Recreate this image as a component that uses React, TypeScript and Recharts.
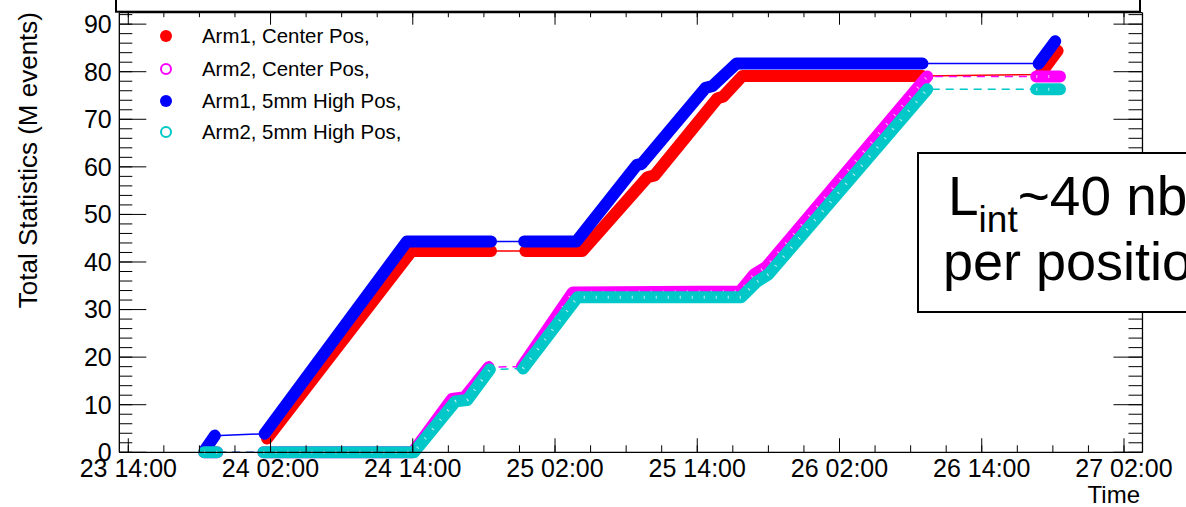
import React from 'react';
import { LineChart, Line, XAxis, YAxis } from 'recharts';

type Pt = [number, number];

// Time is in hours since 23 14:00, values are accumulated M events.
// Every series is a list of runs; a thin line bridges the gaps between runs.
const arm1CenterRuns: Pt[][] = [
  [[11.7, 2.9], [23.9, 42.3], [30.6, 42.3]],
  [[33.5, 42.3], [38.3, 42.3], [43.8, 57.8], [44.4, 58.2], [49.7, 74.4], [50.2, 74.8], [51.8, 79.1], [67.0, 79.1]],
  [[76.9, 79.4], [78.4, 84.4]],
];

const arm2CenterRuns: Pt[][] = [
  [[6.4, 0], [7.5, 0]],
  [[11.4, 0], [24.0, 0], [27.3, 11.2], [28.4, 11.6], [30.4, 17.9]],
  [[33.2, 18.0], [37.5, 33.6], [51.6, 33.8], [52.8, 37.4], [53.8, 38.9], [67.4, 79.0]],
  [[76.6, 79.0], [78.6, 79.0]],
];

const arm1HighRuns: Pt[][] = [
  [[6.5, 0.6], [7.3, 3.5]],
  [[11.5, 3.9], [23.5, 44.3], [30.6, 44.3]],
  [[33.4, 44.3], [37.8, 44.3], [42.9, 60.4], [43.3, 60.6], [48.7, 76.6], [49.3, 77.0], [51.3, 81.7], [67.0, 81.7]],
  [[76.8, 81.7], [78.2, 86.4]],
];

const arm2HighRuns: Pt[][] = [
  [[6.4, 0], [7.5, 0]],
  [[11.4, 0], [24.1, 0], [27.6, 10.7], [28.6, 11.0], [30.5, 17.4]],
  [[33.3, 17.6], [37.9, 32.6], [51.7, 32.6], [53.0, 35.8], [54.0, 37.4], [67.4, 76.3]],
  [[76.6, 76.3], [78.6, 76.3]],
];

const seriesNames = ['Arm1, Center Pos,', 'Arm2, Center Pos,', 'Arm1, 5mm High Pos,', 'Arm2, 5mm High Pos,'];
const seriesColors = ['#ff0000', '#ff00ff', '#0000ff', '#00c8c8'];
const seriesHollow = [false, true, false, true];
const seriesRuns = [arm1CenterRuns, arm2CenterRuns, arm1HighRuns, arm2HighRuns];

const majorHours = [0, 12, 24, 36, 48, 60, 72, 84];
const majorLabels = ['23 14:00', '24 02:00', '24 14:00', '25 02:00', '25 14:00', '26 02:00', '26 14:00', '27 02:00'];
const minorHours = Array.from({ length: 29 }, (_, i) => i * 3);
const yMajor = [0, 10, 20, 30, 40, 50, 60, 70, 80, 90];
const yMinor = Array.from({ length: 47 }, (_, i) => i * 2);

const X_DOMAIN: [number, number] = [-0.757, 85.56];
const Y_DOMAIN: [number, number] = [0, 92.4];

const FONT = '"Liberation Sans", Arial, Helvetica, sans-serif';
const W = 1186;
const H = 507;
const THIN = 0.01; // axes take (almost) no room; the chart margin sets the frame

type Row = { h: number; v: number | null };

function allPoints(runs: Pt[][]): Row[] {
  return runs.flat().map(([h, v]) => ({ h, v }));
}

function bandPoints(runs: Pt[][]): Row[] {
  const rows: Row[] = [];
  runs.forEach((run, i) => {
    if (i > 0) {
      const prev = runs[i - 1][runs[i - 1].length - 1][0];
      rows.push({ h: (prev + run[0][0]) / 2, v: null });
    }
    run.forEach(([h, v]) => rows.push({ h, v }));
  });
  return rows;
}

const noLabel = () => <g />;
const tickStyle = { stroke: '#000', strokeWidth: 1 };
const frameStyle = { stroke: '#000', strokeWidth: 1.3 };

export default function App() {
  const lines: React.ReactNode[] = [];
  seriesRuns.forEach((runs, i) => {
    const band = bandPoints(runs);
    lines.push(
      <Line
        key={`thin-${i}`}
        data={allPoints(runs)}
        dataKey="v"
        type="linear"
        stroke={seriesColors[i]}
        strokeWidth={1.5}
        strokeDasharray={seriesHollow[i] ? '8 6' : undefined}
        dot={false}
        activeDot={false}
        isAnimationActive={false}
      />
    );
    lines.push(
      <Line
        key={`band-${i}`}
        data={band}
        dataKey="v"
        type="linear"
        stroke={seriesColors[i]}
        strokeWidth={12}
        strokeLinecap="round"
        strokeLinejoin="round"
        connectNulls={false}
        dot={false}
        activeDot={false}
        isAnimationActive={false}
      />
    );
    if (seriesHollow[i]) {
      // open markers leave small light holes inside the packed band
      lines.push(
        <Line
          key={`holes-${i}`}
          data={band}
          dataKey="v"
          type="linear"
          stroke="#ffffff"
          strokeOpacity={0.75}
          strokeWidth={3}
          strokeDasharray="1 11"
          connectNulls={false}
          dot={false}
          activeDot={false}
          isAnimationActive={false}
        />
      );
    }
  });

  return (
    <div style={{ position: 'absolute', left: 0, top: 0, width: W, height: H, background: '#fff' }}>
      <LineChart
        width={W}
        height={H}
        margin={{ top: 12.7, right: 43.5, bottom: 54.7, left: 119.3 }}
        style={{ fontFamily: FONT }}
      >
        <XAxis
          dataKey="h"
          type="number"
          domain={X_DOMAIN}
          ticks={majorHours}
          interval={0}
          height={THIN}
          tickSize={-14}
          tickMargin={21}
          tickLine={tickStyle}
          axisLine={frameStyle}
          tickFormatter={(h: number) => majorLabels[majorHours.indexOf(h)] ?? ''}
          tick={{ fill: '#000', fontSize: 25, fontFamily: FONT }}
        />
        <XAxis xAxisId="minorB" dataKey="h" type="number" domain={X_DOMAIN} allowDataOverflow ticks={minorHours}
          interval={0} height={THIN} tickSize={-7} tickLine={tickStyle} axisLine={false} tick={noLabel} />
        <XAxis xAxisId="majorT" orientation="top" dataKey="h" type="number" domain={X_DOMAIN} allowDataOverflow
          ticks={majorHours} interval={0} height={THIN} tickSize={-12} tickLine={tickStyle} axisLine={frameStyle}
          tick={noLabel} />
        <XAxis xAxisId="minorT" orientation="top" dataKey="h" type="number" domain={X_DOMAIN} allowDataOverflow
          ticks={minorHours} interval={0} height={THIN} tickSize={-4.5} tickLine={tickStyle} axisLine={false}
          tick={noLabel} />
        <YAxis
          type="number"
          domain={Y_DOMAIN}
          ticks={yMajor}
          interval={0}
          width={THIN}
          tickSize={-27}
          tickMargin={34.6}
          tickLine={tickStyle}
          axisLine={frameStyle}
          tick={{ fill: '#000', fontSize: 25, fontFamily: FONT }}
        />
        <YAxis yAxisId="minorL" type="number" domain={Y_DOMAIN} allowDataOverflow ticks={yMinor} interval={0}
          width={THIN} tickSize={-13} tickLine={tickStyle} axisLine={false} tick={noLabel} />
        <YAxis yAxisId="majorR" orientation="right" type="number" domain={Y_DOMAIN} allowDataOverflow ticks={yMajor}
          interval={0} width={THIN} tickSize={-29} tickLine={tickStyle} axisLine={frameStyle} tick={noLabel} />
        <YAxis yAxisId="minorR" orientation="right" type="number" domain={Y_DOMAIN} allowDataOverflow ticks={yMinor}
          interval={0} width={THIN} tickSize={-14} tickLine={tickStyle} axisLine={false} tick={noLabel} />
        {lines}
      </LineChart>

      <svg
        width={W}
        height={H}
        style={{ position: 'absolute', left: 0, top: 0, pointerEvents: 'none', fontFamily: FONT }}
      >
        {/* title pave, mostly above the page */}
        <rect x={116} y={-20} width={1024} height={31.7} fill="#fff" stroke="#000" strokeWidth={2} />

        {/* legend */}
        {seriesNames.map((name, i) => {
          const y = [36, 69, 101, 132][i];
          return (
            <g key={name}>
              {seriesHollow[i] ? (
                <circle cx={166} cy={y} r={5} fill="none" stroke={seriesColors[i]} strokeWidth={2} />
              ) : (
                <circle cx={166} cy={y} r={6} fill={seriesColors[i]} />
              )}
              <text x={202} y={y + 7} fontSize={20.4} fill="#000">{name}</text>
            </g>
          );
        })}

        {/* axis titles */}
        <text transform="rotate(-90)" x={-12} y={37} textAnchor="end" fontSize={26} fill="#000">
          Total Statistics (M events)
        </text>
        <text x={1140} y={503} textAnchor="end" fontSize={24} fill="#000">Time</text>

        {/* luminosity note */}
        <rect x={918} y={153} width={300} height={159} fill="#fff" stroke="#000" strokeWidth={2} />
        <text x={948} y={215} fontSize={55} fill="#000">
          L<tspan fontSize={37} dy={17}>int</tspan>
          <tspan dy={-17}>~40 nb</tspan>
          <tspan fontSize={34} dy={-24}>-1</tspan>
        </text>
        <text x={943} y={280} fontSize={54} fill="#000">per position</text>
      </svg>
    </div>
  );
}
